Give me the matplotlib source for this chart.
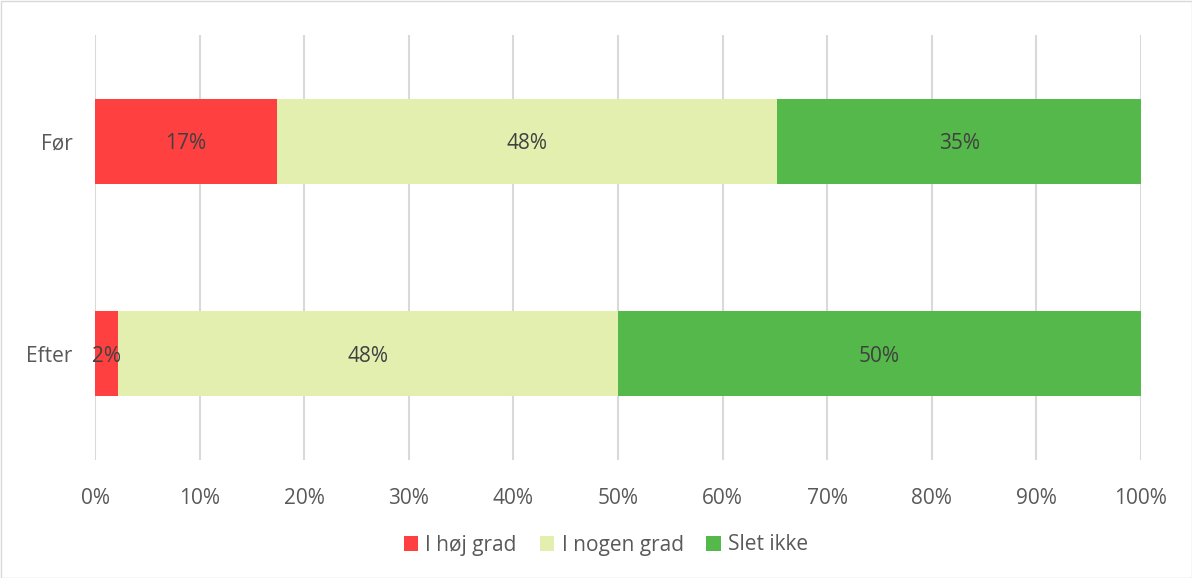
import matplotlib
matplotlib.use("Agg")
import matplotlib.pyplot as plt
from matplotlib.patches import Rectangle

plt.rcParams['font.family'] = ['Open Sans', 'DejaVu Sans']

categories = ["Før", "Efter"]
series_names = ["I høj grad", "I nogen grad", "Slet ikke"]
values = {
    "I høj grad": [8/46*100, 1/46*100],
    "I nogen grad": [22/46*100, 22/46*100],
    "Slet ikke": [16/46*100, 23/46*100],
}
labels = {
    "I høj grad": ["17%", "2%"],
    "I nogen grad": ["48%", "48%"],
    "Slet ikke": ["35%", "50%"],
}
colors = ["#FF4040", "#E3EFAF", "#55B84A"]
xticks = [0, 10, 20, 30, 40, 50, 60, 70, 80, 90, 100]
xticklabels = [f"{v}%" for v in xticks]

FS = 15
fig = plt.figure(figsize=(11.92, 5.78), dpi=100)
ax = fig.add_axes([95/1192, 1 - 460/578, (1141-95)/1192, (460-35)/578])

txt = "#595959"
ypos = [1, 0]
left = [0, 0]
handles = []
for name, col in zip(series_names, colors):
    vals = values[name]
    b = ax.barh(ypos, vals, left=left, height=0.4, color=col, label=name, zorder=3)
    handles.append(b)
    for y, l, v, lab in zip(ypos, left, vals, labels[name]):
        ax.text(l + v/2, y - 0.012, lab, ha="center", va="center", fontsize=FS, color="#404040", zorder=4)
    left = [a + b_ for a, b_ in zip(left, vals)]

ax.set_xlim(0, 100)
ax.set_ylim(-0.5, 1.5)
ax.set_xticks(xticks)
ax.set_xticklabels(xticklabels, fontsize=FS, color=txt)
ax.set_yticks(ypos)
ax.set_yticklabels(categories, fontsize=FS, color=txt)
ax.tick_params(axis="both", length=0)
ax.tick_params(axis="x", pad=20)
ax.tick_params(axis="y", pad=16)
ax.grid(axis="x", color="#D9D9D9", linewidth=1.5, zorder=0)
for s in ax.spines.values():
    s.set_visible(False)

leg = fig.legend(handles=handles, labels=series_names, loc="center", bbox_to_anchor=(606/1192, 1 - 545/578),
                 ncol=3, frameon=False, fontsize=FS, handlelength=0.7, handleheight=0.7,
                 columnspacing=1.1, handletextpad=0.35)
for t in leg.get_texts():
    t.set_color(txt)

fig.patches.append(Rectangle((0.5/1192, 0.5/578), 1 - 1/1192, 1 - 1/578, transform=fig.transFigure,
                             fill=False, edgecolor="#D9D9D9", linewidth=1))

fig.savefig("out.png", dpi=100)
